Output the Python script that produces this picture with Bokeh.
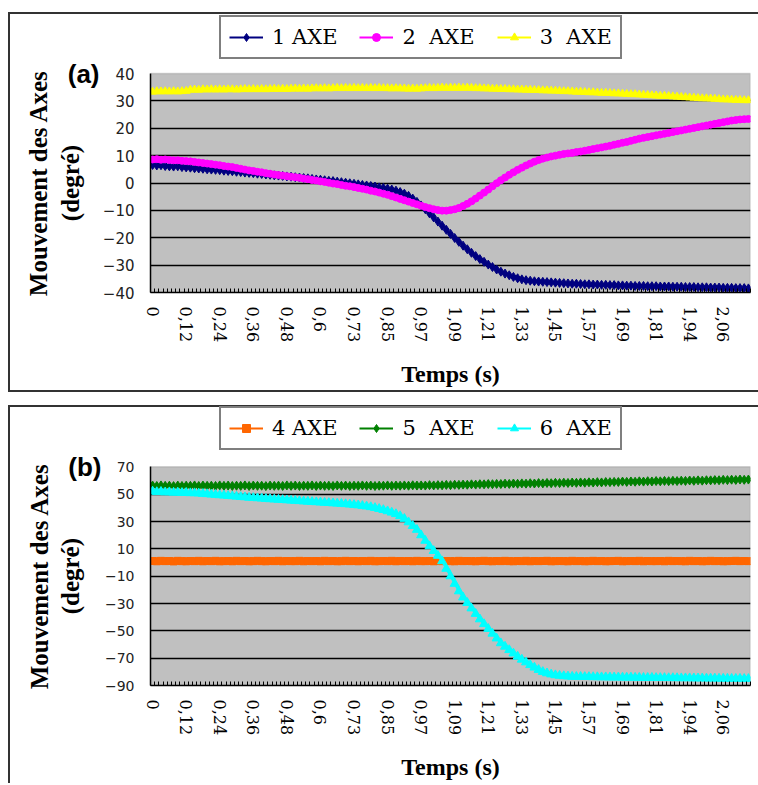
from bokeh.plotting import figure
from bokeh.models import (Range1d, FixedTicker, Legend, LegendItem, Spacer, LinearAxis,
                          BoxAnnotation)
from bokeh.layouts import column, row
from bokeh.embed import file_html
from bokeh.resources import INLINE

# ---------------- data ----------------
tick_positions = [0, 8, 16, 24, 32, 40, 48, 56, 64, 72, 80, 88, 96, 104, 112, 120, 128, 136]
tick_labels = ["0", "0,12", "0,24", "0,36", "0,48", "0,6", "0,73", "0,85", "0,97",
               "1,09", "1,21", "1,33", "1,45", "1,57", "1,69", "1,81", "1,94", "2,06"]

axe1 = [6.6, 6.4, 6.5, 6.2, 6.1, 6.0, 6.1, 5.8, 5.7, 5.6,
        5.4, 5.3, 5.2, 5.0, 4.9, 4.8, 4.7, 4.5, 4.4, 4.3,
        4.1, 4.0, 3.8, 3.7, 3.6, 3.4, 3.3, 3.1, 3.0, 2.8,
        2.7, 2.6, 2.4, 2.3, 2.1, 2.0, 1.8, 1.7, 1.5, 1.3,
        1.2, 1.0, 0.8, 0.7, 0.5, 0.3, 0.1, -0.1, -0.3, -0.5,
        -0.7, -0.9, -1.1, -1.3, -1.6, -1.8, -2.1, -2.4, -2.8, -3.3,
        -3.9, -4.7, -5.7, -6.9, -8.2, -9.6, -11.1, -12.6, -14.1, -15.6,
        -17.1, -18.6, -20.1, -21.5, -22.9, -24.2, -25.5, -26.7, -27.8, -28.8,
        -29.8, -30.7, -31.6, -32.4, -33.1, -33.7, -34.3, -34.8, -35.2, -35.5,
        -35.7, -35.9, -36.0, -36.1, -36.2, -36.3, -36.4, -36.5, -36.6, -36.7,
        -36.8, -36.8, -36.9, -37.0, -37.0, -37.1, -37.1, -37.2, -37.2, -37.3,
        -37.3, -37.4, -37.4, -37.5, -37.5, -37.6, -37.6, -37.6, -37.7, -37.7,
        -37.7, -37.8, -37.8, -37.8, -37.9, -37.9, -37.9, -38.0, -38.0, -38.0,
        -38.1, -38.1, -38.1, -38.2, -38.2, -38.2, -38.3, -38.3, -38.3, -38.4,
        -38.4, -38.4, -38.5]

axe2 = [8.6, 8.7, 8.5, 8.6, 8.4, 8.3, 8.3, 8.1, 8.0, 7.9,
        7.7, 7.5, 7.3, 7.1, 6.9, 6.7, 6.5, 6.2, 6.0, 5.8,
        5.5, 5.2, 4.9, 4.6, 4.4, 4.1, 3.9, 3.6, 3.4, 3.1,
        2.9, 2.7, 2.5, 2.3, 2.1, 1.9, 1.6, 1.4, 1.1, 0.9,
        0.6, 0.4, 0.1, -0.2, -0.4, -0.7, -1.0, -1.2, -1.5, -1.8,
        -2.1, -2.4, -2.8, -3.1, -3.5, -3.9, -4.3, -4.8, -5.3, -5.8,
        -6.3, -6.8, -7.3, -7.8, -8.3, -8.8, -9.2, -9.6, -9.9, -10.1,
        -10.1, -9.9, -9.6, -9.1, -8.4, -7.6, -6.7, -5.7, -4.6, -3.5,
        -2.4, -1.2, -0.1, 1.0, 2.0, 3.0, 3.9, 4.8, 5.6, 6.4,
        7.1, 7.8, 8.4, 8.9, 9.3, 9.7, 10.0, 10.3, 10.6, 10.8,
        11.0, 11.3, 11.5, 11.8, 12.1, 12.4, 12.7, 13.0, 13.3, 13.6,
        14.0, 14.3, 14.7, 15.0, 15.4, 15.8, 16.2, 16.5, 16.8, 17.1,
        17.4, 17.7, 18.0, 18.3, 18.6, 18.9, 19.2, 19.5, 19.8, 20.1,
        20.4, 20.7, 21.0, 21.3, 21.6, 21.9, 22.2, 22.5, 22.8, 23.0,
        23.2, 23.3, 23.4]

axe3 = [33.3, 33.5, 33.4, 33.5, 33.4, 33.5, 33.4, 33.5, 33.6, 34.0,
        34.1, 34.0, 34.2, 34.1, 34.2, 34.1, 34.2, 34.1, 34.2, 34.2,
        34.1, 34.2, 34.3, 34.2, 34.3, 34.2, 34.3, 34.2, 34.3, 34.4,
        34.3, 34.4, 34.3, 34.4, 34.5, 34.4, 34.5, 34.4, 34.5, 34.6,
        34.5, 34.6, 34.5, 34.6, 34.7, 34.6, 34.7, 34.6, 34.7, 34.6,
        34.7, 34.6, 34.7, 34.6, 34.7, 34.6, 34.6, 34.5, 34.6, 34.5,
        34.5, 34.4, 34.5, 34.4, 34.5, 34.6, 34.7, 34.6, 34.7, 34.8,
        34.7, 34.8, 34.7, 34.8, 34.7, 34.8, 34.7, 34.6, 34.6, 34.5,
        34.5, 34.4, 34.4, 34.3, 34.3, 34.2, 34.2, 34.1, 34.1, 34.0,
        34.0, 33.9, 33.9, 33.8, 33.8, 33.7, 33.7, 33.6, 33.5, 33.5,
        33.4, 33.3, 33.3, 33.2, 33.1, 33.1, 33.0, 32.9, 32.9, 32.8,
        32.7, 32.7, 32.6, 32.5, 32.4, 32.4, 32.3, 32.2, 32.1, 32.0,
        31.9, 31.8, 31.8, 31.7, 31.6, 31.5, 31.4, 31.3, 31.2, 31.1,
        31.0, 30.9, 30.9, 30.8, 30.7, 30.6, 30.5, 30.5, 30.4, 30.3,
        30.3, 30.2, 30.2]

axe4 = [1.1, 0.9, 1.2, 1.0, 1.1, 0.8, 1.2, 1.0, 0.9, 1.1,
        1.0, 1.2, 0.9, 1.1, 1.0, 1.2, 0.9, 1.0, 1.1, 0.9,
        1.2, 1.0, 1.1, 0.9, 1.0, 1.2, 1.0, 0.9, 1.1, 1.0,
        1.2, 0.9, 1.1, 1.0, 1.0, 1.2, 0.9, 1.1, 1.0, 1.1,
        0.9, 1.2, 1.0, 1.1, 0.9, 1.0, 1.2, 1.0, 1.1, 0.9,
        1.1, 1.0, 1.2, 0.9, 1.0, 1.1, 1.0, 1.2, 0.9, 1.1,
        1.0, 1.1, 0.9, 1.2, 1.0, 1.0, 1.1, 0.9, 1.2, 1.0,
        1.1, 1.0, 0.9, 1.2, 1.0, 1.1, 1.0, 0.9, 1.1, 1.2,
        1.0, 0.9, 1.1, 1.0, 1.2, 1.0, 0.9, 1.1, 1.0, 1.2,
        0.9, 1.1, 1.0, 1.1, 1.2, 0.9, 1.0, 1.1, 1.0, 0.9,
        1.2, 1.0, 1.1, 0.9, 1.0, 1.2, 1.0, 1.1, 0.9, 1.0,
        1.1, 1.2, 0.9, 1.0, 1.1, 1.0, 1.2, 0.9, 1.1, 1.0,
        1.0, 1.1, 0.9, 1.2, 1.0, 1.1, 1.0, 0.9, 1.2, 1.0,
        1.1, 0.9, 1.0, 1.2, 1.0, 1.1, 0.9, 1.0, 1.1, 1.2,
        1.0, 1.1, 1.0]

axe5 = [56.3, 56.0, 56.4, 56.1, 56.2, 55.9, 56.3, 56.0, 56.2, 56.1,
        56.4, 56.0, 56.3, 56.1, 56.2, 56.0, 56.4, 56.1, 56.3, 56.0,
        56.2, 56.1, 56.4, 56.0, 56.3, 56.1, 56.2, 55.9, 56.3, 56.1,
        56.2, 56.0, 56.4, 56.1, 56.3, 56.0, 56.2, 56.1, 56.4, 56.0,
        56.3, 56.1, 56.2, 56.0, 56.4, 56.1, 56.3, 56.0, 56.2, 56.1,
        56.4, 56.1, 56.3, 56.0, 56.2, 56.2, 56.4, 56.1, 56.3, 56.2,
        56.4, 56.2, 56.5, 56.3, 56.4, 56.3, 56.6, 56.4, 56.6, 56.5,
        56.8, 56.6, 56.9, 56.8, 57.0, 56.9, 57.2, 57.0, 57.3, 57.2,
        57.4, 57.3, 57.5, 57.4, 57.7, 57.5, 57.8, 57.6, 57.9, 57.7,
        58.0, 57.8, 58.1, 57.9, 58.2, 58.0, 58.3, 58.1, 58.4, 58.2,
        58.5, 58.3, 58.6, 58.4, 58.7, 58.5, 58.8, 58.6, 58.9, 58.8,
        59.0, 58.9, 59.2, 59.0, 59.3, 59.1, 59.4, 59.2, 59.5, 59.3,
        59.6, 59.4, 59.7, 59.5, 59.8, 59.6, 59.9, 59.7, 60.0, 59.8,
        60.1, 59.9, 60.2, 60.1, 60.3, 60.2, 60.5, 60.3, 60.6, 60.4,
        60.7, 60.5, 60.7]

axe6 = [52.0, 51.6, 51.8, 51.4, 51.5, 51.2, 51.3, 51.0, 51.1, 50.8,
        50.8, 50.6, 50.3, 50.1, 49.8, 49.6, 49.3, 49.1, 48.8, 48.6,
        48.3, 48.0, 47.8, 47.5, 47.3, 47.1, 46.9, 46.6, 46.4, 46.2,
        46.0, 45.8, 45.6, 45.4, 45.2, 45.0, 44.8, 44.6, 44.4, 44.2,
        44.0, 43.8, 43.6, 43.4, 43.2, 43.0, 42.8, 42.5, 42.2, 41.9,
        41.5, 41.1, 40.6, 40.0, 39.3, 38.5, 37.6, 36.6, 35.5, 34.0,
        32.0, 29.5, 26.8, 24.0, 20.0, 16.0, 12.0, 8.5, 5.0, 1.0,
        -4.5, -10.0, -15.5, -21.0, -25.5, -29.5, -33.5, -37.5, -41.5, -45.0,
        -48.5, -52.0, -55.5, -59.0, -61.5, -64.0, -66.5, -68.8, -71.0, -73.0,
        -75.0, -76.8, -78.5, -80.0, -81.0, -81.8, -82.4, -82.8, -83.1, -83.3,
        -83.5, -83.6, -83.6, -83.7, -83.7, -83.8, -83.8, -83.9, -83.9, -84.0,
        -84.0, -84.0, -84.1, -84.1, -84.1, -84.2, -84.2, -84.3, -84.3, -84.3,
        -84.4, -84.4, -84.4, -84.5, -84.5, -84.5, -84.6, -84.6, -84.6, -84.7,
        -84.7, -84.7, -84.8, -84.8, -84.8, -84.9, -84.9, -84.9, -85.0, -85.0,
        -85.0, -85.1, -85.1]

N_CAT = 143
Y_TITLE = "Mouvement des Axes\n(degré)"

panel_a_series = [("1 AXE", axe1, "#000080", "diamond", 9),
                  ("2  AXE", axe2, "#FF00FF", "circle", 7),
                  ("3  AXE", axe3, "#FFFF00", "triangle", 8)]
panel_b_series = [("4 AXE", axe4, "#FF6600", "square", 7),
                  ("5  AXE", axe5, "#008000", "diamond", 9),
                  ("6  AXE", axe6, "#00FFFF", "triangle", 9)]


def make_panel(series, y0, y1, ystep, ylab_size, tag, height, data_h, bottom,
               legend_vy, box_shadow):
    frame_h = height - bottom
    y_top = y0 + (y1 - y0) * frame_h / data_h   # frame extends above the plot area
    y_mid = (y0 + y1) / 2
    p = figure(width=750, height=height,
               x_range=Range1d(-0.5, N_CAT - 0.5), y_range=Range1d(y0, y_top),
               output_backend="svg", toolbar_location=None,
               min_border_left=142, min_border_right=8,
               min_border_top=0, min_border_bottom=bottom,
               background_fill_color=None, border_fill_color=None,
               outline_line_color=None)
    p.styles = {"box-shadow": box_shadow, "background-color": "white"}

    # grey plot area
    p.add_layout(BoxAnnotation(left=-0.5, right=N_CAT - 0.5, bottom=y0, top=y1,
                               fill_color="#C0C0C0", fill_alpha=1.0,
                               line_color="#808080", line_width=1.5,
                               level="image"))

    items = []
    for name, vals, col, marker, size in series:
        xs = list(range(len(vals)))
        rl = p.line(xs, vals, line_color=col, line_width=2)
        rs = p.scatter(xs, vals, marker=marker, size=size, fill_color=col,
                       line_color=col)
        items.append(LegendItem(label=name, renderers=[rl, rs]))

    yticks = list(range(y0, y1 + 1, ystep))
    p.xgrid.visible = False
    p.ygrid.grid_line_color = "black"
    p.ygrid.grid_line_width = 1.5
    p.ygrid.ticker = FixedTicker(ticks=yticks[:-1])

    ya = p.yaxis[0]
    ya.ticker = FixedTicker(ticks=yticks)
    ya.bounds = (y0, y1)
    ya.major_label_text_font = "DejaVu Sans"
    ya.major_label_text_font_size = ylab_size
    ya.major_label_text_color = "#222222"
    ya.major_tick_in = 0
    ya.major_tick_out = 0
    ya.minor_tick_in = 0
    ya.minor_tick_out = 0
    ya.major_label_standoff = 16
    ya.axis_line_color = "black"
    ya.axis_line_width = 1.5

    # outer left axis 1: panel tag level with the top of the plot area
    tag_axis = LinearAxis(ticker=FixedTicker(ticks=[y1]), bounds=(y0, y1),
                          major_label_overrides={y1: tag},
                          axis_line_color=None, major_tick_line_color=None,
                          minor_tick_line_color=None,
                          major_label_text_font="Liberation Sans",
                          major_label_text_font_style="bold",
                          major_label_text_font_size="26px",
                          major_label_text_color="black",
                          major_label_standoff=-6)
    p.add_layout(tag_axis, "left")

    # outer left axis 2: two-line title centred on the plot area
    title_axis = LinearAxis(ticker=FixedTicker(ticks=[y_mid]), bounds=(y0, y1),
                            major_label_overrides={y_mid: Y_TITLE},
                            major_label_orientation="vertical",
                            axis_line_color=None, major_tick_line_color=None,
                            minor_tick_line_color=None,
                            major_label_text_font="Liberation Serif",
                            major_label_text_font_style="bold",
                            major_label_text_font_size="25px",
                            major_label_text_line_height=1.15,
                            major_label_text_color="black",
                            major_label_standoff=-25)
    p.add_layout(title_axis, "left")

    xa = p.xaxis[0]
    xa.ticker = FixedTicker(ticks=tick_positions,
                            minor_ticks=[k - 0.5 for k in range(N_CAT + 1)])
    xa.major_label_overrides = dict(zip(tick_positions, tick_labels))
    xa.major_label_orientation = "vertical"
    xa.major_label_text_font = "DejaVu Serif"
    xa.major_label_text_font_size = "16px"
    xa.major_label_text_color = "black"
    xa.major_label_standoff = 14
    xa.major_tick_in = 0
    xa.major_tick_out = 0
    xa.minor_tick_in = 4
    xa.minor_tick_out = 0
    xa.minor_tick_line_color = "black"
    xa.axis_line_color = "black"
    xa.axis_line_width = 1.5
    xa.axis_label = "Temps (s)"
    xa.axis_label_text_font = "Liberation Serif"
    xa.axis_label_text_font_style = "bold"
    xa.axis_label_text_font_size = "24px"
    xa.axis_label_text_color = "black"
    xa.axis_label_standoff = 16

    legend = Legend(items=items, orientation="horizontal", location=(69, legend_vy),
                    border_line_color="black", border_line_width=2,
                    background_fill_color="white", background_fill_alpha=1.0,
                    label_text_font="DejaVu Serif", label_text_font_size="21px",
                    label_text_color="black",
                    glyph_width=34, glyph_height=20, label_standoff=9, spacing=22,
                    padding=8, margin=0, label_height=22)
    p.add_layout(legend)
    return p


p1 = make_panel(panel_a_series, -40, 40, 10, "15px", "(a)", 380, 219, 100, 233,
                "inset 2px 2px 0 #333333, inset 0 -2px 0 #333333")
p2 = make_panel(panel_b_series, -90, 70, 20, "14px", "(b)", 378, 221, 95, 235,
                "inset 2px 2px 0 #333333")

layout = column(Spacer(height=12),
                row(Spacer(width=8), p1),
                Spacer(height=13),
                row(Spacer(width=8), p2))

open("out.html", "w").write(file_html(layout, INLINE))
